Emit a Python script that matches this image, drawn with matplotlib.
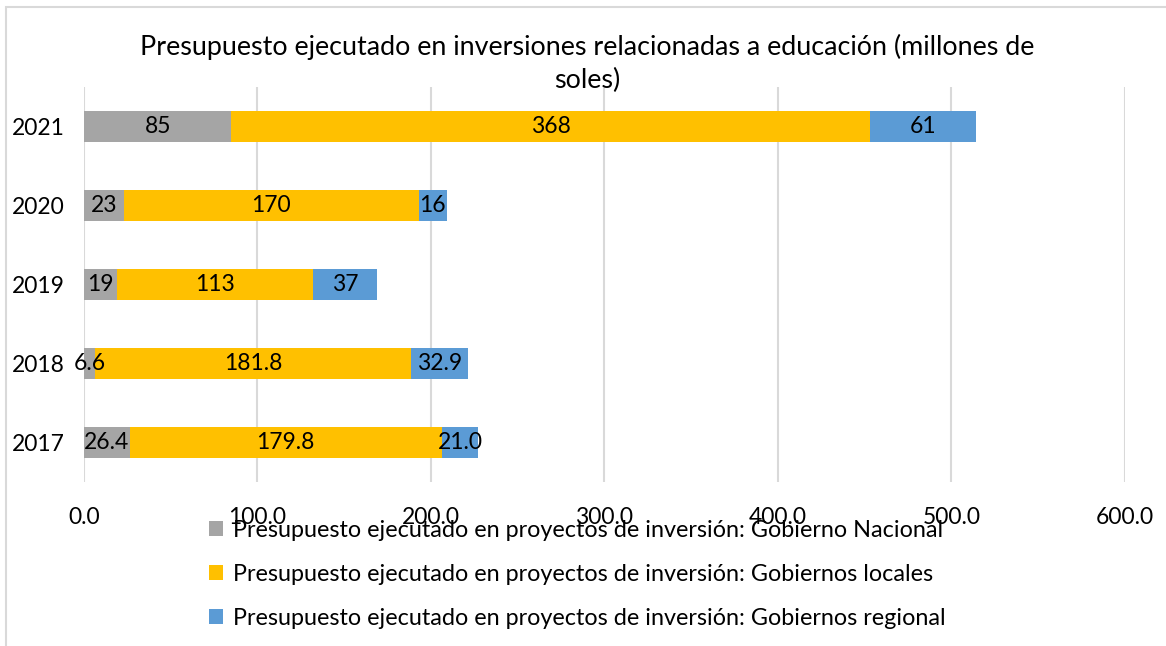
import matplotlib

matplotlib.use("Agg")
import matplotlib.pyplot as plt
from matplotlib.patches import Rectangle
import numpy as np

plt.rcParams["font.family"] = ["Lato", "DejaVu Sans"]

YEARS = ["2017", "2018", "2019", "2020", "2021"]
NACIONAL = [26.4, 6.6, 19, 23, 85]
LOCALES = [179.8, 181.8, 113, 170, 368]
REGIONAL = [21.0, 32.9, 37, 16, 61]
LABEL_FMT = ["{:.1f}", "{:.1f}", "{:.0f}", "{:.0f}", "{:.0f}"]

SERIES = [
    ("Presupuesto ejecutado en proyectos de inversión: Gobierno Nacional", NACIONAL, "#A5A5A5"),
    ("Presupuesto ejecutado en proyectos de inversión: Gobiernos locales", LOCALES, "#FFC000"),
    ("Presupuesto ejecutado en proyectos de inversión: Gobiernos regional", REGIONAL, "#5B9BD5"),
]
TITLE = "Presupuesto ejecutado en inversiones relacionadas a educación (millones de\nsoles)"

fig = plt.figure(figsize=(11.66, 6.46), dpi=100)
ax = fig.add_axes([0.072, 0.2539, 0.8928, 0.6114])

y = np.arange(len(YEARS))
left = np.zeros(len(YEARS))
for label, values, color in SERIES:
    vals = np.array(values, dtype=float)
    ax.barh(y, vals, left=left, height=0.4, color=color, label=label, zorder=2)
    for yi, (l, v, fmt) in enumerate(zip(left, vals, LABEL_FMT)):
        ax.text(l + v / 2, yi, fmt.format(v), ha="center", va="center",
                fontsize=16.5, color="black", zorder=3)
    left += vals

ax.set_xlim(0, 600)
ax.set_ylim(-0.5, len(YEARS) - 0.5)
ax.set_xticks(np.arange(0, 601, 100))
ax.set_xticklabels([f"{v:.1f}" for v in np.arange(0, 601, 100)])
ax.set_yticks(y)
ax.set_yticklabels(YEARS)
ax.tick_params(axis="both", length=0, labelsize=16.5, colors="black")
ax.tick_params(axis="x", pad=18)
ax.tick_params(axis="y", pad=14)
ax.grid(axis="x", color="#D9D9D9", linewidth=1.5, zorder=0)
ax.set_axisbelow(True)
for spine in ax.spines.values():
    spine.set_visible(False)

fig.text(0.504, 0.902, TITLE, ha="center", va="center", fontsize=19.4,
         color="black", linespacing=1.4)

fig.legend(loc="upper left", bbox_to_anchor=(0.179, 0.195), frameon=False,
           fontsize=16.8, handlelength=0.6, handleheight=0.6, handletextpad=0.45,
           labelspacing=0.98, borderpad=0, borderaxespad=0)

fig.patches.append(Rectangle((6 / 1166, -0.01), 1.1, 1 - 7 / 646 + 0.01,
                             transform=fig.transFigure, fill=False,
                             edgecolor="#D9D9D9", linewidth=1.5))

fig.savefig("out.png", dpi=100)
